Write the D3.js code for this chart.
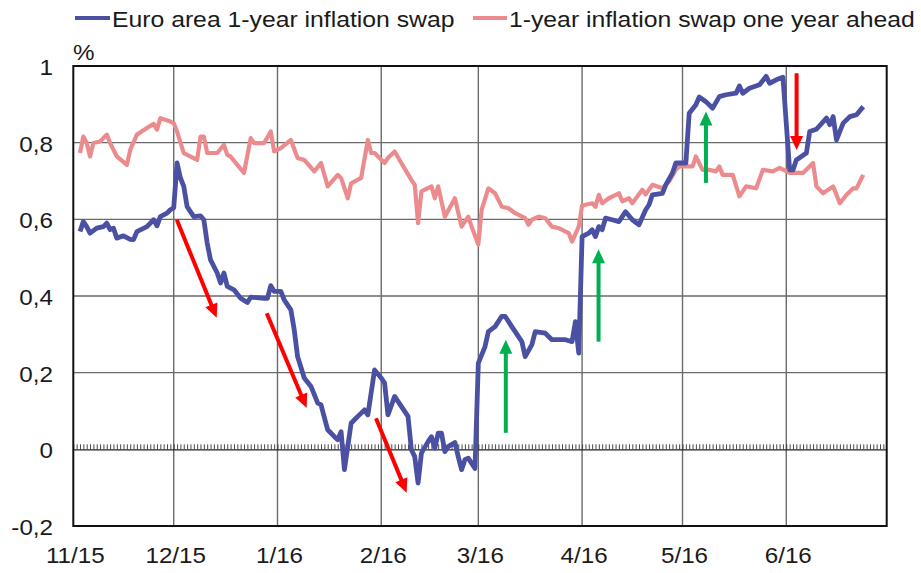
<!DOCTYPE html>
<html><head><meta charset="utf-8">
<script src="https://cdn.jsdelivr.net/npm/d3@7"></script>
<style>html,body{margin:0;padding:0;background:#fff;} svg{display:block;font-family:"Liberation Sans",Arial,sans-serif;}</style>
</head><body><svg id="chart" width="921" height="573"></svg>
<script>
// ---------------- data ----------------
const swapDates = ["2015-11-03","2015-11-04","2015-11-05","2015-11-06","2015-11-08","2015-11-10","2015-11-11","2015-11-12","2015-11-13","2015-11-14","2015-11-16","2015-11-18","2015-11-19","2015-11-20","2015-11-23","2015-11-25","2015-11-26","2015-11-27","2015-11-29","2015-11-30",
"2015-12-01","2015-12-02","2015-12-03","2015-12-04","2015-12-05","2015-12-07","2015-12-09","2015-12-10","2015-12-11","2015-12-12","2015-12-14","2015-12-15","2015-12-16","2015-12-17","2015-12-19","2015-12-21","2015-12-23","2015-12-24","2015-12-28","2015-12-29","2015-12-30","2015-12-31",
"2016-01-02","2016-01-03","2016-01-05","2016-01-06","2016-01-07","2016-01-09","2016-01-11","2016-01-13","2016-01-14","2016-01-16","2016-01-18","2016-01-19","2016-01-20","2016-01-21","2016-01-23","2016-01-25","2016-01-27","2016-01-28","2016-01-30",
"2016-02-01","2016-02-02","2016-02-03","2016-02-05","2016-02-07","2016-02-09","2016-02-10","2016-02-11","2016-02-12","2016-02-13","2016-02-15","2016-02-16","2016-02-17","2016-02-18","2016-02-19","2016-02-20","2016-02-21","2016-02-23","2016-02-24","2016-02-25","2016-02-26","2016-02-27","2016-02-29",
"2016-03-01","2016-03-03","2016-03-04","2016-03-06","2016-03-08","2016-03-09","2016-03-11","2016-03-13","2016-03-14","2016-03-15","2016-03-17","2016-03-18","2016-03-21","2016-03-23","2016-03-25","2016-03-27","2016-03-29","2016-03-30","2016-03-31",
"2016-04-01","2016-04-03","2016-04-04","2016-04-05","2016-04-06","2016-04-07","2016-04-08","2016-04-10","2016-04-12","2016-04-14","2016-04-16","2016-04-18","2016-04-20","2016-04-21","2016-04-22","2016-04-25","2016-04-26","2016-04-28","2016-04-29",
"2016-05-02","2016-05-03","2016-05-05","2016-05-06","2016-05-08","2016-05-10","2016-05-12","2016-05-14","2016-05-17","2016-05-18","2016-05-19","2016-05-21","2016-05-24","2016-05-26","2016-05-27","2016-05-29","2016-05-31",
"2016-06-02","2016-06-03","2016-06-04","2016-06-07","2016-06-08","2016-06-10","2016-06-13","2016-06-14","2016-06-15","2016-06-16","2016-06-18","2016-06-20","2016-06-22","2016-06-24"];
const swapValues = [0.568,0.594,0.581,0.564,0.577,0.581,0.590,0.573,0.577,0.551,0.557,0.548,0.547,0.568,0.581,0.599,0.583,0.607,0.616,0.625,
0.630,0.747,0.708,0.686,0.633,0.607,0.609,0.599,0.538,0.494,0.460,0.434,0.460,0.425,0.416,0.394,0.383,0.397,0.394,0.394,0.427,0.412,
0.412,0.390,0.364,0.312,0.242,0.186,0.164,0.121,0.116,0.051,0.033,0.025,0.046,-0.053,0.068,0.086,0.103,0.090,0.207,
0.186,0.173,0.090,0.138,0.112,0.086,-0.001,-0.019,-0.088,-0.010,0.020,0.033,0.003,0.042,0.042,-0.006,0.007,0.018,-0.019,-0.053,-0.027,-0.023,-0.050,
0.225,0.268,0.307,0.320,0.347,0.347,0.320,0.294,0.281,0.242,0.273,0.307,0.303,0.286,0.286,0.286,0.281,0.333,0.251,
0.555,0.564,0.573,0.555,0.581,0.573,0.603,0.599,0.594,0.620,0.599,0.586,0.625,0.638,0.664,0.668,0.690,0.721,0.747,
0.747,0.877,0.899,0.919,0.907,0.890,0.920,0.925,0.929,0.948,0.929,0.942,0.951,0.973,0.955,0.964,0.971,
0.729,0.729,0.755,0.773,0.829,0.835,0.864,0.847,0.868,0.807,0.851,0.868,0.873,0.894];

const aheadDates = ["2015-11-03","2015-11-04","2015-11-05","2015-11-06","2015-11-07","2015-11-09","2015-11-11","2015-11-12","2015-11-14","2015-11-17","2015-11-18","2015-11-20","2015-11-23","2015-11-25","2015-11-26","2015-11-27","2015-11-30",
"2015-12-01","2015-12-02","2015-12-04","2015-12-08","2015-12-09","2015-12-10","2015-12-11","2015-12-14","2015-12-16","2015-12-17","2015-12-18","2015-12-20","2015-12-22","2015-12-24","2015-12-25","2015-12-28","2015-12-30","2015-12-31",
"2016-01-02","2016-01-05","2016-01-07","2016-01-09","2016-01-12","2016-01-14","2016-01-16","2016-01-19","2016-01-20","2016-01-22","2016-01-23","2016-01-26","2016-01-28","2016-01-29","2016-01-30",
"2016-02-02","2016-02-03","2016-02-05","2016-02-07","2016-02-10","2016-02-11","2016-02-12","2016-02-13","2016-02-16","2016-02-17","2016-02-18","2016-02-20","2016-02-23","2016-02-25","2016-02-27","2016-02-28",
"2016-03-01","2016-03-02","2016-03-04","2016-03-06","2016-03-08","2016-03-10","2016-03-12","2016-03-15","2016-03-16","2016-03-17","2016-03-19","2016-03-21","2016-03-23","2016-03-25","2016-03-28","2016-03-29","2016-03-31",
"2016-04-01","2016-04-04","2016-04-05","2016-04-06","2016-04-07","2016-04-09","2016-04-12","2016-04-13","2016-04-15","2016-04-16","2016-04-19","2016-04-20","2016-04-22","2016-04-25","2016-04-27","2016-04-29","2016-04-30",
"2016-05-04","2016-05-05","2016-05-07","2016-05-09","2016-05-11","2016-05-12","2016-05-13","2016-05-16","2016-05-18","2016-05-20","2016-05-23","2016-05-25","2016-05-28","2016-05-30",
"2016-06-02","2016-06-04","2016-06-06","2016-06-09","2016-06-10","2016-06-12","2016-06-15","2016-06-17","2016-06-19","2016-06-21","2016-06-22","2016-06-24"];
const aheadValues = [0.773,0.816,0.799,0.764,0.799,0.803,0.821,0.799,0.764,0.742,0.781,0.821,0.838,0.849,0.834,0.864,0.855,
0.851,0.829,0.773,0.755,0.816,0.816,0.773,0.773,0.794,0.768,0.764,0.742,0.721,0.812,0.799,0.799,0.829,0.777,
0.786,0.807,0.760,0.755,0.725,0.747,0.686,0.716,0.708,0.655,0.694,0.708,0.807,0.773,0.773,
0.747,0.760,0.777,0.747,0.703,0.690,0.590,0.673,0.686,0.655,0.686,0.607,0.655,0.581,0.607,0.581,
0.534,0.625,0.681,0.668,0.633,0.629,0.616,0.603,0.586,0.599,0.607,0.603,0.581,0.577,0.564,0.542,0.581,
0.636,0.642,0.633,0.664,0.642,0.655,0.668,0.647,0.655,0.642,0.677,0.665,0.690,0.681,0.699,0.729,0.738,
0.738,0.764,0.729,0.729,0.725,0.738,0.716,0.716,0.660,0.686,0.681,0.729,0.725,0.734,
0.721,0.721,0.721,0.747,0.686,0.668,0.686,0.642,0.664,0.681,0.681,0.716];

const seriesNames = ["Euro area 1-year inflation swap", "1-year inflation swap one year ahead"];
const monthTicks = ["2015-11-01","2015-12-01","2016-01-01","2016-02-01","2016-03-01","2016-04-01","2016-05-01","2016-06-01"];
const monthLabels = ["11/15","12/15","1/16","2/16","3/16","4/16","5/16","6/16"];
const yTicks = [-0.2, 0, 0.2, 0.4, 0.6, 0.8, 1];
const yTickLabels = ["-0,2","0","0,2","0,4","0,6","0,8","1"];
const xStart = "2015-11-01", xEnd = "2016-07-01";
// annotation arrows (date, value) start -> tip
const arrowFromDates  = ["2015-12-01T22:00","2015-12-28T19:00","2016-01-30T10:00","2016-03-09T05:00","2016-04-05T22:00","2016-05-08T00:00","2016-06-04T02:00"];
const arrowFromValues = [0.599, 0.355, 0.081, 0.043, 0.281, 0.695, 0.981];
const arrowToDates    = ["2015-12-13T20:00","2016-01-09T17:00","2016-02-08T14:00","2016-03-09T05:00","2016-04-05T22:00","2016-05-08T00:00","2016-06-04T02:00"];
const arrowToValues   = [0.343, 0.108, -0.113, 0.286, 0.522, 0.881, 0.781];
const arrowKinds      = ["fall","fall","fall","rise","rise","rise","fall"];

// ---------------- drawing ----------------
const W = 921, H = 573;
const M = {top: 66, right: 34.3, bottom: 47, left: 73.3};
const colors = {swap: "#4A51A3", ahead: "#EC8B8D", fall: "#FF0000", rise: "#00B050", grid: "#6a6a6a"};
const FONT = 22, SX = 1.1;

const pDay = d3.timeParse("%Y-%m-%d"), pTime = d3.timeParse("%Y-%m-%dT%H:%M");
const parse = s => s.length > 10 ? pTime(s) : pDay(s);

const svg = d3.select("#chart");
const x = d3.scaleTime().domain([parse(xStart), parse(xEnd)]).range([M.left, W - M.right]);
const y = d3.scaleLinear().domain([-0.2, 1]).range([H - M.bottom, M.top]);

function addText(parent, tx, ty, str, anchor, size) {
  return parent.append("text")
    .attr("transform", `translate(${tx},${ty}) scale(${SX},1)`)
    .attr("text-anchor", anchor)
    .attr("font-size", size || FONT)
    .attr("fill", "#1a1a1a")
    .text(str);
}

// horizontal gridlines
svg.append("g").selectAll("line").data(yTicks.filter(v => v !== 0 && v !== 1 && v !== -0.2)).join("line")
  .attr("x1", M.left).attr("x2", W - M.right)
  .attr("y1", d => y(d)).attr("y2", d => y(d))
  .attr("stroke", colors.grid).attr("stroke-width", 1.4);

// vertical month gridlines
svg.append("g").selectAll("line").data(monthTicks.slice(1)).join("line")
  .attr("x1", d => x(parse(d))).attr("x2", d => x(parse(d)))
  .attr("y1", M.top).attr("y2", H - M.bottom)
  .attr("stroke", colors.grid).attr("stroke-width", 1.4);

// zero axis with daily tick marks
const zeroAxis = d3.axisBottom(x)
  .tickValues(d3.timeDay.range(parse(xStart), parse(xEnd)))
  .tickSizeInner(-5).tickSizeOuter(0).tickFormat("");
svg.append("g").attr("transform", `translate(0,${y(0)})`).call(zeroAxis)
  .call(g => g.select(".domain").attr("stroke", "#222").attr("stroke-width", 1.2))
  .call(g => g.selectAll(".tick line").attr("stroke", "#333").attr("stroke-width", 0.9));

// plot border
svg.append("rect")
  .attr("x", M.left).attr("y", M.top)
  .attr("width", W - M.right - M.left).attr("height", H - M.bottom - M.top)
  .attr("fill", "none").attr("stroke", "#111").attr("stroke-width", 2);

// y tick labels
const gy = svg.append("g");
yTicks.forEach((v, i) => addText(gy, 53, y(v) + 9, yTickLabels[i], "end"));
// x tick labels
const gx = svg.append("g");
monthTicks.forEach((d, i) => addText(gx, x(parse(d)) + 2, 563, monthLabels[i], "middle"));
// unit label
addText(svg, 73, 60, "%", "start");

// series lines
const swapData = swapDates.map((d, i) => ({date: parse(d), value: swapValues[i]}));
const aheadData = aheadDates.map((d, i) => ({date: parse(d), value: aheadValues[i]}));
const line = d3.line().x(d => x(d.date)).y(d => y(d.value));
svg.append("path").datum(aheadData).attr("d", line)
  .attr("fill", "none").attr("stroke", colors.ahead).attr("stroke-width", 4.2)
  .attr("stroke-linejoin", "round");
svg.append("path").datum(swapData).attr("d", line)
  .attr("fill", "none").attr("stroke", colors.swap).attr("stroke-width", 4.8)
  .attr("stroke-linejoin", "round");

// arrows
const ga = svg.append("g");
arrowKinds.forEach((k, i) => {
  const x0 = x(parse(arrowFromDates[i])), y0 = y(arrowFromValues[i]);
  const x1 = x(parse(arrowToDates[i])), y1 = y(arrowToValues[i]);
  const dx = x1 - x0, dy = y1 - y0, L = Math.hypot(dx, dy);
  const ux = dx / L, uy = dy / L, head = 14, half = 6.5;
  const bx = x1 - ux * head, by = y1 - uy * head;
  ga.append("line").attr("x1", x0).attr("y1", y0).attr("x2", bx + ux * 1).attr("y2", by + uy * 1)
    .attr("stroke", colors[k]).attr("stroke-width", 4);
  ga.append("polygon")
    .attr("points", [[x1, y1], [bx - uy * half, by + ux * half], [bx + uy * half, by - ux * half]].map(p => p.join(",")).join(" "))
    .attr("fill", colors[k]);
});

// legend
const gl = svg.append("g");
gl.append("line").attr("x1", 75).attr("x2", 110).attr("y1", 18).attr("y2", 18)
  .attr("stroke", colors.swap).attr("stroke-width", 4);
addText(gl, 112, 27, seriesNames[0], "start", 22.5);
gl.append("line").attr("x1", 473).attr("x2", 507).attr("y1", 18).attr("y2", 18)
  .attr("stroke", colors.ahead).attr("stroke-width", 4);
addText(gl, 509, 27, seriesNames[1], "start", 22.5);
</script>
</body></html>
